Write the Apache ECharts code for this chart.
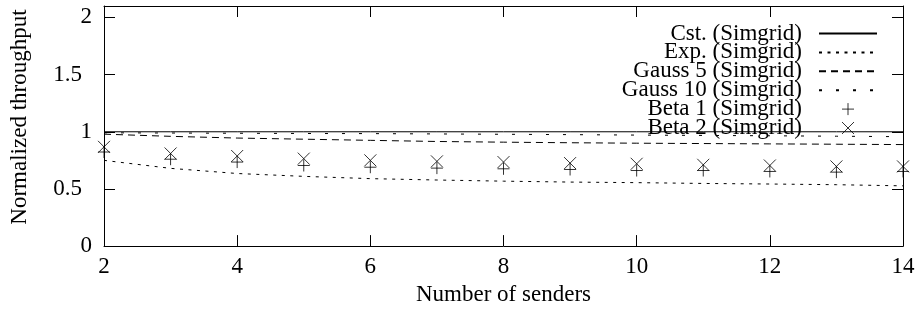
<!DOCTYPE html>
<html><head><meta charset="utf-8">
<script src="https://cdn.jsdelivr.net/npm/echarts@6/dist/echarts.min.js"></script>
<style>html,body{margin:0;padding:0;background:#fff}#c{width:921px;height:311px}</style>
</head><body><div id="c"></div>
<script>
const senders = [2,3,4,5,6,7,8,9,10,11,12,13,14];
const cst = [1,1,1,1,1,1,1,1,1,1,1,1,1];
const expo = [0.75,0.68,0.635,0.61,0.59,0.578,0.568,0.56,0.555,0.548,0.543,0.537,0.527];
const gauss5 = [0.979,0.96,0.945,0.935,0.925,0.915,0.909,0.904,0.9,0.897,0.894,0.891,0.888];
const gauss10 = [0.991,0.989,0.987,0.985,0.984,0.981,0.978,0.975,0.971,0.968,0.965,0.961,0.957];
const beta1 = [0.823,0.76,0.735,0.705,0.69,0.682,0.676,0.67,0.661,0.661,0.653,0.647,0.653];
const beta2 = [0.868,0.81,0.788,0.765,0.75,0.741,0.735,0.726,0.72,0.711,0.705,0.697,0.697];
const names = ['Cst. (Simgrid)','Exp. (Simgrid)','Gauss 5 (Simgrid)','Gauss 10 (Simgrid)','Beta 1 (Simgrid)','Beta 2 (Simgrid)'];
const xTitle = 'Number of senders';
const yTitle = 'Normalized throughput';

const FONT = '"Liberation Serif","Times New Roman",serif';
const FS = 23;
const pairs = arr => senders.map((x,i)=>[x, arr[i]]);
const blk = '#000';
const tickCommon = {show:true, inside:true, length:11, lineStyle:{color:blk, width:1}};
const lineCommon = {show:true, onZero:false, lineStyle:{color:blk, width:1}};
const txt = {color:blk, fontFamily:FONT, fontSize:FS};

const chart = echarts.init(document.getElementById('c'));
chart.setOption({
  animation:false,
  backgroundColor:'#fff',
  grid:{left:102, right:18, top:6, bottom:64, containLabel:false},
  xAxis:[
    {type:'value', min:2, max:14, interval:2, position:'bottom',
     axisLine:lineCommon, axisTick:tickCommon, splitLine:{show:false},
     axisLabel:Object.assign({margin:9}, txt),
     name:xTitle, nameLocation:'middle', nameGap:30,
     nameTextStyle:txt},
    {type:'value', min:2, max:14, interval:2, position:'top',
     axisLine:lineCommon, axisTick:tickCommon, splitLine:{show:false},
     axisLabel:{show:false}}
  ],
  yAxis:[
    {type:'value', min:0, max:2.1, interval:0.5, position:'left',
     axisLine:lineCommon, axisTick:tickCommon, splitLine:{show:false},
     axisLabel:Object.assign({margin:12, showMaxLabel:false,
       formatter: v => (v % 1 ? '{d|' + v + '}' : '{i|' + v + '}'),
       rich:{d:Object.assign({padding:[0,10,0,0]}, txt), i:Object.assign({}, txt)}}, txt),
     name:yTitle, nameLocation:'middle', nameGap:73,
     nameTextStyle:Object.assign({padding:[0,0,0,18]}, txt)},
    {type:'value', min:0, max:2.1, interval:0.5, position:'right',
     axisLine:lineCommon, axisTick:tickCommon, splitLine:{show:false},
     axisLabel:{show:false}}
  ],
  legend:{
    orient:'vertical', right:43, top:22, align:'right',
    itemWidth:58, itemHeight:12, itemGap:-4.1, padding:0,
    textStyle:Object.assign({padding:[0,12,0,0]}, txt),
    itemStyle:{borderWidth:1},
    data:names.map((n,i)=> i < 4 ? {name:n, itemStyle:{opacity:0}} : {name:n})
  },
  series:[
    {name:names[0], type:'line', symbol:'none', data:pairs(cst), color:blk,
     lineStyle:{color:blk, width:1, type:'solid'}},
    {name:names[1], type:'line', symbol:'none', data:pairs(expo), color:blk,
     lineStyle:{color:blk, width:1, type:[3,5.5]}},
    {name:names[2], type:'line', symbol:'none', data:pairs(gauss5), color:blk,
     lineStyle:{color:blk, width:1, type:[7,5]}},
    {name:names[3], type:'line', symbol:'none', data:pairs(gauss10), color:blk,
     lineStyle:{color:blk, width:1, type:[3,14]}},
    {name:names[4], type:'scatter', data:pairs(beta1), symbol:'path://M5,0L5,10M0,5L10,5', symbolSize:12,
     color:blk, itemStyle:{color:'rgba(0,0,0,0)', borderColor:blk, borderWidth:1}},
    {name:names[5], type:'scatter', data:pairs(beta2), symbol:'path://M0,0L10,10M10,0L0,10', symbolSize:12,
     color:blk, itemStyle:{color:'rgba(0,0,0,0)', borderColor:blk, borderWidth:1}}
  ]
});
</script></body></html>
